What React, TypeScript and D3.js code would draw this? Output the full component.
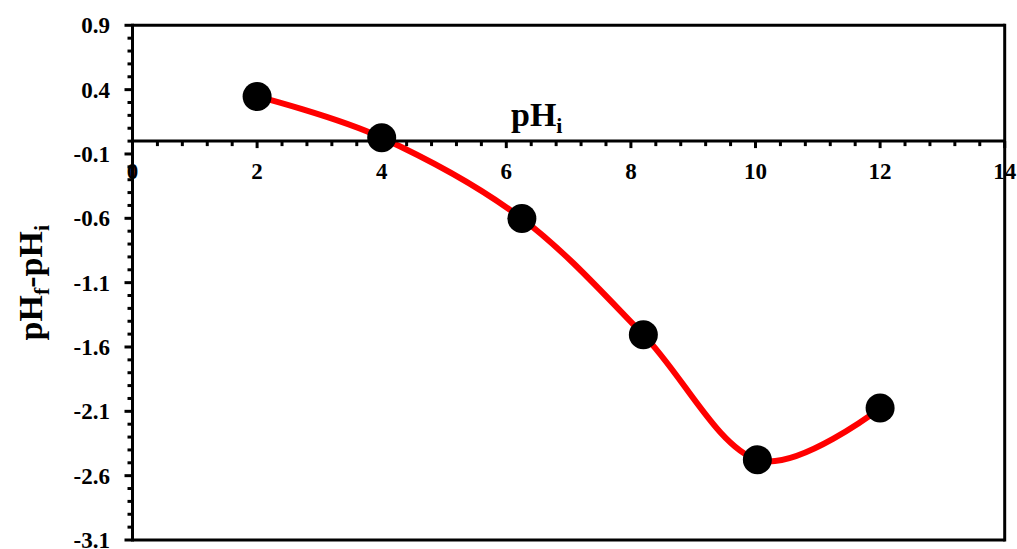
import React from "react";
import * as d3 from "d3";

const phInitial = [2, 4, 6.25, 8.2, 10.03, 12];
const phDiff = [0.347, 0.026, -0.602, -1.505, -2.477, -2.075];
const xMajorTicks = [0, 2, 4, 6, 8, 10, 12, 14];
const yMajorTicks = [0.9, 0.4, -0.1, -0.6, -1.1, -1.6, -2.1, -2.6, -3.1];

const W = 1017;
const H = 549;
const L = 132.5;
const R = 1004.7;
const T = 25.3;
const B = 540;
const FONT = "Liberation Serif";

export default function App() {
  const x = d3.scaleLinear().domain([0, 14]).range([L, R]);
  const y = d3.scaleLinear().domain([-3.1, 0.9]).range([B, T]);
  const y0 = y(0);

  const xMinor = d3.range(0, 14.0001, 0.4).filter((v) => Math.abs(v / 2 - Math.round(v / 2)) > 1e-6);
  const yMinor = d3.range(0, 41).map((i) => 0.9 - i * 0.1).filter((v) => {
    const k = (0.9 - v) / 0.5;
    return Math.abs(k - Math.round(k)) > 1e-6;
  });

  const pts: [number, number][] = phInitial.map((v, i) => [v, phDiff[i]]);
  const line = d3
    .line<[number, number]>()
    .x((d) => x(d[0]))
    .y((d) => y(d[1]))
    .curve(d3.curveCardinal.tension(0));

  const txt = { fontFamily: FONT, fontWeight: 700 as const };

  return (
    <svg
      width={W}
      height={H}
      style={{ position: "absolute", left: 0, top: 0, background: "#fff" }}
    >
      {/* x tick labels */}
      {xMajorTicks.map((t) => (
        <text key={"xl" + t} x={x(t)} y={171} dy="0.35em" textAnchor="middle" fontSize={23} fill="#000" style={txt}>
          {t}
        </text>
      ))}
      {/* y tick labels */}
      {yMajorTicks.map((t) => (
        <text key={"yl" + t} x={110} y={y(t)} dy="0.35em" textAnchor="end" fontSize={23} fill="#000" style={txt}>
          {t.toFixed(1)}
        </text>
      ))}

      {/* curve */}
      <path d={line(pts) || ""} fill="none" stroke="#FF0000" strokeWidth={6} />

      {/* frame */}
      <line x1={L} x2={R} y1={T} y2={T} stroke="#000" strokeWidth={3} />
      <line x1={R} x2={R} y1={T - 1.5} y2={B + 1.5} stroke="#000" strokeWidth={3} />
      <line x1={L} x2={R} y1={B} y2={B} stroke="#000" strokeWidth={3} />
      <line x1={L} x2={L} y1={T - 1.5} y2={B + 1.5} stroke="#000" strokeWidth={3} />
      {/* x axis at 0 */}
      <line x1={L} x2={R} y1={y0} y2={y0} stroke="#000" strokeWidth={3} />
      {xMajorTicks.map((t) => (
        <line key={"xM" + t} x1={x(t)} x2={x(t)} y1={y0} y2={y0 + 7} stroke="#000" strokeWidth={3} />
      ))}
      {xMinor.map((t) => (
        <line key={"xm" + t} x1={x(t)} x2={x(t)} y1={y0} y2={y0 + 5} stroke="#000" strokeWidth={3} />
      ))}
      {yMajorTicks.map((t) => (
        <line key={"yM" + t} x1={L - 8} x2={L} y1={y(t)} y2={y(t)} stroke="#000" strokeWidth={3} />
      ))}
      {yMinor.map((t) => (
        <line key={"ym" + t.toFixed(2)} x1={L - 5} x2={L} y1={y(t)} y2={y(t)} stroke="#000" strokeWidth={3} />
      ))}

      {/* markers */}
      {pts.map((d, i) => (
        <circle key={"p" + i} cx={x(d[0])} cy={y(d[1])} r={14.5} fill="#000" />
      ))}

      {/* x title */}
      <text x={511} y={126} fontSize={34} fill="#000" style={txt}>
        pH
        <tspan fontSize={22} dy={7}>i</tspan>
      </text>

      {/* y title */}
      <text
        transform={`translate(42, ${(T + B) / 2}) rotate(-90)`}
        textAnchor="middle"
        fontSize={34}
        fill="#000"
        style={txt}
      >
        pH
        <tspan fontSize={22} dy={7}>f</tspan>
        <tspan dy={-7}>-pH</tspan>
        <tspan fontSize={22} dy={7}>i</tspan>
      </text>
    </svg>
  );
}
